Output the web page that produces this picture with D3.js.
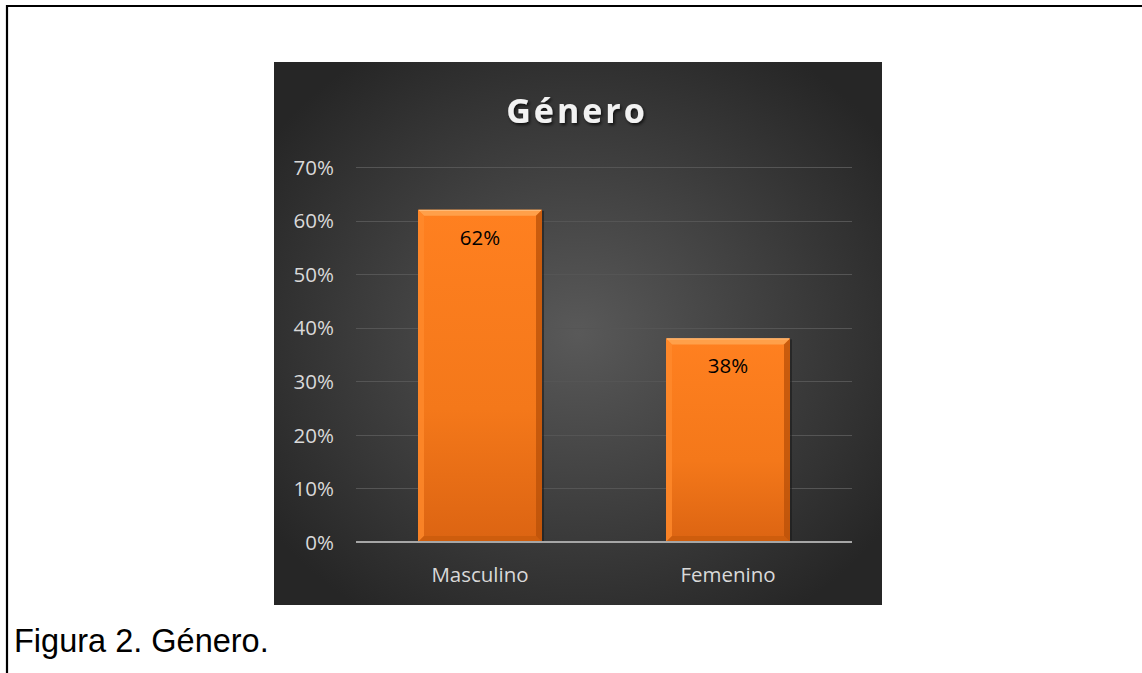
<!DOCTYPE html>
<html><head><meta charset="utf-8">
<script src="https://cdn.jsdelivr.net/npm/d3@7"></script>
<style>
html,body{margin:0;padding:0;background:#fff;}
svg{display:block;}
</style></head>
<body>
<svg id="c" width="1142" height="673"></svg>
<script>
const categories = ["Masculino", "Femenino"];
const values = [0.62, 0.38];
const tickValues = [0, 0.1, 0.2, 0.3, 0.4, 0.5, 0.6, 0.7];
const title = "Género";
const caption = "Figura 2. Género.";

const svg = d3.select("#c");
const defs = svg.append("defs");

// outer frame
svg.append("path").attr("d","M7,673 V6 H1142").attr("fill","none").attr("stroke","#000").attr("stroke-width",2.2);

// panel
const P = {x:274, y:62, w:608, h:543};
const rg = defs.append("radialGradient").attr("id","bg").attr("cx","50%").attr("cy","50%").attr("r","62%");
rg.append("stop").attr("offset","0%").attr("stop-color","#595959");
rg.append("stop").attr("offset","100%").attr("stop-color","#262626");
svg.append("rect").attr("x",P.x).attr("y",P.y).attr("width",P.w).attr("height",P.h).attr("fill","url(#bg)");

const x = d3.scaleBand().domain(categories).range([356,852]).paddingInner(0.5).paddingOuter(0.25);
const y = d3.scaleLinear().domain([0,0.7]).range([542,167]);

// gridlines
svg.append("g").selectAll("line").data(tickValues.filter(d=>d>0)).join("line")
  .attr("x1",356).attr("x2",852).attr("y1",d=>Math.round(y(d))+0.5).attr("y2",d=>Math.round(y(d))+0.5)
  .attr("stroke","#555555").attr("stroke-width",1.2);

// y axis labels
const yAxis = d3.axisLeft(y).tickValues(tickValues).tickFormat(d3.format(".0%")).tickSize(0).tickPadding(0);
const ya = svg.append("g").attr("transform","translate(334,0)").call(yAxis);
ya.select(".domain").remove();
ya.selectAll("text").attr("font-family","'Open Sans'").attr("font-size",20.5).attr("fill","#d9d9d9").attr("dy","0.35em");

// bars
const bg = defs.append("linearGradient").attr("id","bar").attr("x1",0).attr("y1",0).attr("x2",0).attr("y2",1);
bg.append("stop").attr("offset","0%").attr("stop-color","#ff8020");
bg.append("stop").attr("offset","60%").attr("stop-color","#f4781a");
bg.append("stop").attr("offset","100%").attr("stop-color","#dc6412");

const bw = x.bandwidth();
const bev = 6;
const gBars = svg.append("g");
categories.forEach((c,i)=>{
  const x0 = x(c), x1 = x(c)+bw, y0 = y(values[i]), y1 = y(0);
  const g = gBars.append("g");
  // shadow
  g.append("rect").attr("x",x0+1).attr("y",y0+1).attr("width",bw+1).attr("height",y1-y0-1).attr("fill","#1a1a1a").attr("opacity",0.6);
  g.append("rect").attr("x",x0).attr("y",y0).attr("width",bw).attr("height",y1-y0).attr("fill","url(#bar)");
  // top bevel
  g.append("path").attr("d",`M${x0},${y0} L${x1},${y0} L${x1-bev},${y0+bev} L${x0+bev},${y0+bev} Z`).attr("fill","#ffa04a");
  // left bevel
  g.append("path").attr("d",`M${x0},${y0} L${x0+bev},${y0+bev} L${x0+bev},${y1-bev} L${x0},${y1} Z`).attr("fill","#ff8a2c").attr("opacity",0.8);
  // right bevel
  g.append("path").attr("d",`M${x1},${y0} L${x1-bev},${y0+bev} L${x1-bev},${y1-bev} L${x1},${y1} Z`).attr("fill","#b85008").attr("opacity",0.75);
  // bottom bevel
  g.append("path").attr("d",`M${x0},${y1} L${x0+bev},${y1-bev} L${x1-bev},${y1-bev} L${x1},${y1} Z`).attr("fill","#c85a0c").attr("opacity",0.7);
  g.append("line").attr("x1",x0+1).attr("x2",x1-1).attr("y1",y0+0.5).attr("y2",y0+0.5).attr("stroke","#ffc080").attr("stroke-width",1);
  // label
  g.append("text").attr("x",x0+bw/2).attr("y",y0+35).attr("text-anchor","middle")
    .attr("font-family","'Open Sans'").attr("font-size",20.5).attr("fill","#000").text(d3.format(".0%")(values[i]));
});

// x axis
const xAxis = d3.axisBottom(x).tickSize(0).tickPadding(0);
const xa = svg.append("g").attr("transform","translate(0,542)").call(xAxis);
xa.select(".domain").remove();
svg.append("line").attr("x1",356).attr("x2",852).attr("y1",542).attr("y2",542).attr("stroke","#a6a6a6").attr("stroke-width",2);
xa.selectAll("text").attr("font-family","'Open Sans'").attr("font-size",20.5).attr("fill","#d9d9d9").attr("dy",0).attr("y",40);

// title
const f = defs.append("filter").attr("id","sh").attr("x","-10%").attr("y","-10%").attr("width","130%").attr("height","140%");
f.append("feDropShadow").attr("dx",1.5).attr("dy",2).attr("stdDeviation",1.5).attr("flood-color","#000").attr("flood-opacity",0.7);
svg.append("text").attr("x",577).attr("y",123).attr("text-anchor","middle")
  .attr("font-family","'Open Sans'").attr("font-weight","bold").attr("font-size",34).attr("letter-spacing",3)
  .attr("fill","#f2f2f2").attr("filter","url(#sh)").text(title);

// caption
svg.append("text").attr("x",14).attr("y",652).attr("font-family","'Liberation Sans', Arial").attr("font-size",32.5)
  .attr("fill","#000").text(caption);
</script>
</body></html>
